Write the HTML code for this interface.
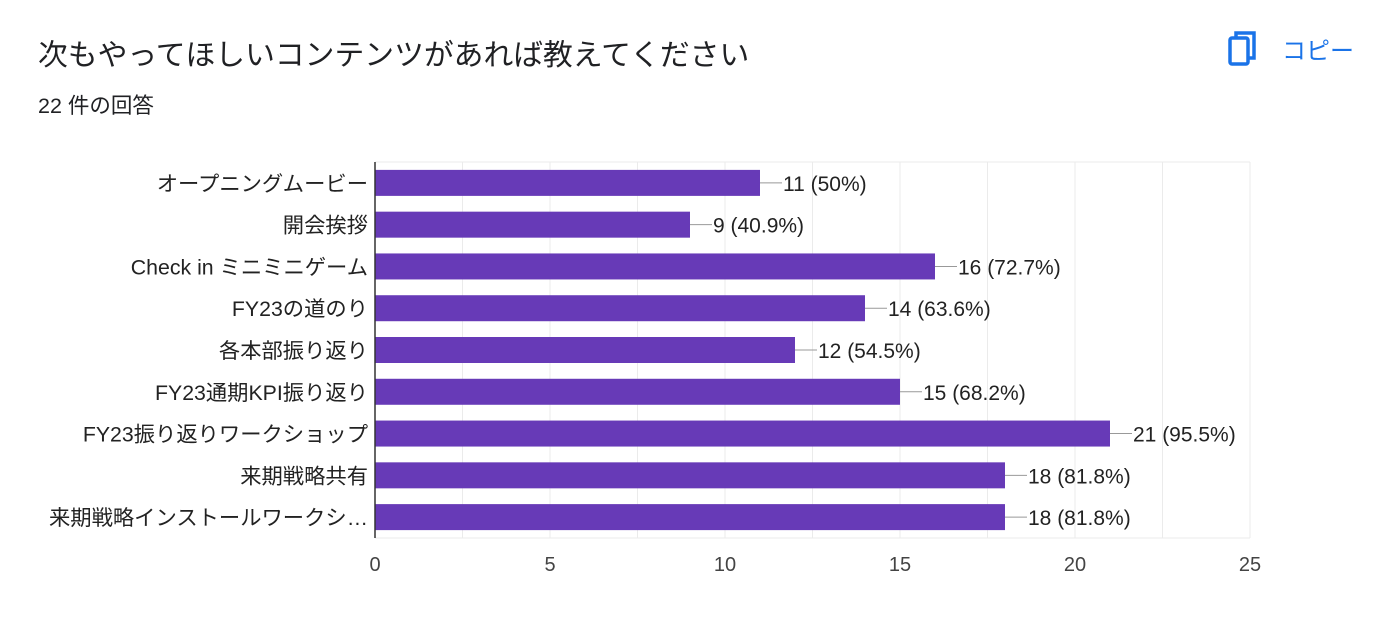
<!DOCTYPE html>
<html><head><meta charset="utf-8"><style>
body{margin:0;width:1400px;height:640px;background:#fff;overflow:hidden;font-family:"Liberation Sans","Noto Sans CJK JP",sans-serif;}
.title{position:absolute;left:38px;top:30px;font-size:29.8px;color:#202124;white-space:nowrap;}
.sub{position:absolute;left:38px;top:89px;font-size:21.5px;color:#202124;white-space:nowrap;}
.copy{position:absolute;left:1228px;top:30px;color:#1a73e8;font-size:24px;display:flex;align-items:center;gap:24px;white-space:nowrap;}
</style></head><body>
<div class="title">次もやってほしいコンテンツがあれば教えてください</div>
<div class="sub">22 件の回答</div>
<div class="copy"><svg width="30" height="36" viewBox="0 0 30 36"><rect x="2" y="8" width="18" height="26" rx="2" fill="none" stroke="#1a73e8" stroke-width="3.5"/><path d="M8 8V3h18v25h-6" fill="none" stroke="#1a73e8" stroke-width="3.5"/></svg><span>コピー</span></div>
<svg id="chart" width="1400" height="640" style="position:absolute;left:0;top:0"></svg>
<script>
const categories=["オープニングムービー","開会挨拶","Check in ミニミニゲーム","FY23の道のり","各本部振り返り","FY23通期KPI振り返り","FY23振り返りワークショップ","来期戦略共有","来期戦略インストールワークシ…"];
const values=[11,9,16,14,12,15,21,18,18];
const labels=["11 (50%)","9 (40.9%)","16 (72.7%)","14 (63.6%)","12 (54.5%)","15 (68.2%)","21 (95.5%)","18 (81.8%)","18 (81.8%)"];
const ticks=[0,5,10,15,20,25];
const svg=document.getElementById('chart');const NS='http://www.w3.org/2000/svg';
const X0=375,X1=1250,T=162,B=538,max=25;
const x=v=>X0+(X1-X0)*v/max;
const band=(B-T)/categories.length;
function mk(t,a){const e=document.createElementNS(NS,t);for(const k in a)e.setAttribute(k,a[k]);svg.appendChild(e);return e;}
for(let v=2.5;v<=25;v+=2.5){const g=mk('line',{x1:x(v),x2:x(v),y1:T,y2:B,stroke:'#ebebeb','stroke-width':1});

}
mk('line',{x1:X0,x2:X1,y1:T,y2:T,stroke:'#ebebeb'});
mk('line',{x1:X0,x2:X1,y1:B,y2:B,stroke:'#ebebeb'});
ticks.forEach(v=>{const t=mk('text',{x:x(v),y:571,'text-anchor':'middle','font-size':20,fill:'#444'});t.textContent=v;

});
categories.forEach((c,i)=>{const cy=T+band*(i+0.5);
const r=mk('rect',{x:X0,y:cy-13,width:x(values[i])-X0,height:26,fill:'#673ab7'});


mk('line',{x1:x(values[i]),x2:x(values[i])+22,y1:cy,y2:cy,stroke:'#999'});
const l=mk('text',{x:x(values[i])+23,y:cy+8,'font-size':21,fill:'#222'});l.textContent=labels[i];


const t=mk('text',{x:368,y:cy+8,'text-anchor':'end','font-size':21.3,fill:'#222'});t.textContent=c;

});
mk('line',{x1:X0,x2:X0,y1:T,y2:B,stroke:'#333','stroke-width':1.5});
</script>
</body></html>
